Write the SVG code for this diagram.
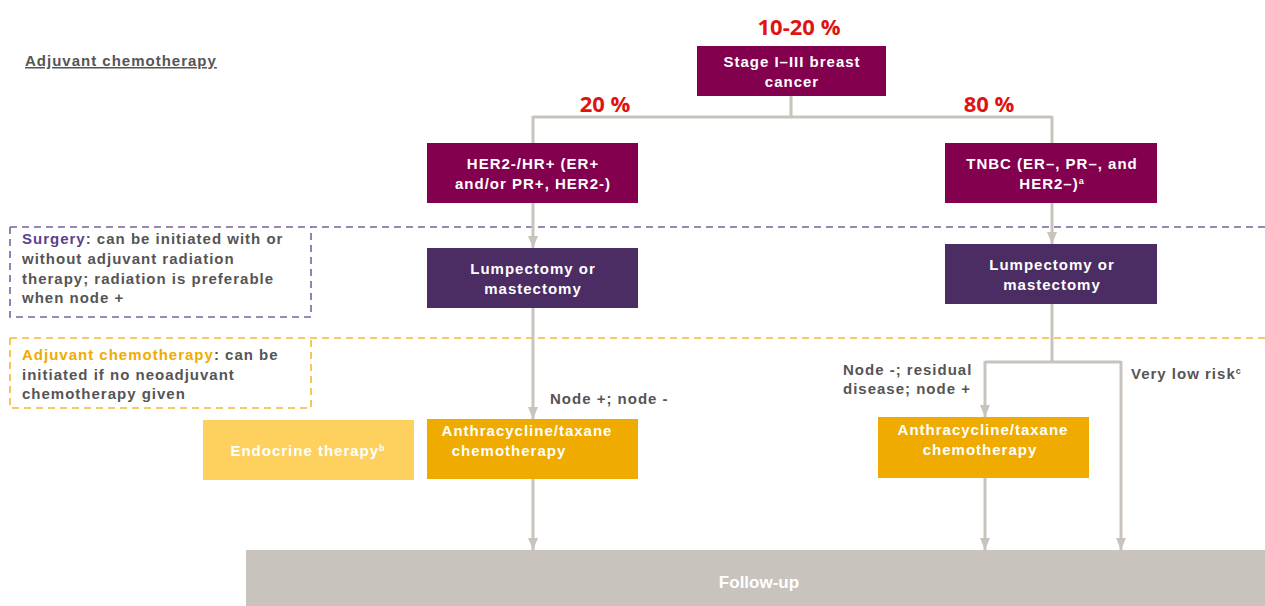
<svg xmlns="http://www.w3.org/2000/svg" width="1265" height="606" viewBox="0 0 1265 606">
<defs>
<style>
.bt{font-family:"Liberation Sans",Arial,sans-serif;font-weight:bold;font-size:15px;letter-spacing:1px;fill:#fff;text-anchor:middle}
.nt{font-family:"Liberation Sans",Arial,sans-serif;font-weight:bold;font-size:15px;letter-spacing:1px;fill:#555}
.pct{font-family:"Open Sans","Liberation Sans",sans-serif;font-weight:bold;font-size:22px;fill:#e0140f;text-anchor:middle}
.con{fill:none;stroke:#c8c3bc;stroke-width:3}
.mag{fill:#83004f}
.pur{fill:#4b2d63}
.org{fill:#f0ab00}
</style>
<marker id="arr" viewBox="0 0 12 10" refX="12" refY="5" markerWidth="4" markerHeight="3.4" orient="auto" markerUnits="strokeWidth">
<path d="M0,0 L12,5 L0,10 z" fill="#c8c3bc"/>
</marker>
</defs>
<rect width="1265" height="606" fill="#fff"/>

<text x="25" y="66" font-family="Liberation Sans,Arial,sans-serif" font-size="15" letter-spacing="1" font-weight="bold" fill="#555" text-decoration="underline">Adjuvant chemotherapy</text>

<g id="dashed-guides">
<path d="M10,227 H1265 M10,227 V317 H311 V227" fill="none" stroke="#7a63a0" stroke-width="1.6" stroke-dasharray="7,5"/>
<path d="M10,338 H1265 M10,338 V408 H311 V338" fill="none" stroke="#f0b83c" stroke-width="1.6" stroke-dasharray="7,5"/>
</g>

<g id="connectors">
<path class="con" d="M791,96 V117 M533,117 H1052"/>
<path class="con" d="M533,116 V248" marker-end="url(#arr)"/>
<path class="con" d="M1052,116 V244" marker-end="url(#arr)"/>
<path class="con" d="M533,308 V419" marker-end="url(#arr)"/>
<path class="con" d="M1052,304 V362 M985,362 H1121"/>
<path class="con" d="M985,361 V417" marker-end="url(#arr)"/>
<path class="con" d="M1121,361 V550" marker-end="url(#arr)"/>
<path class="con" d="M533,479 V550" marker-end="url(#arr)"/>
<path class="con" d="M985,478 V550" marker-end="url(#arr)"/>
</g>

<g id="pct-labels">
<text class="pct" x="799" y="35">10-20 %</text>
<text class="pct" x="605" y="112">20 %</text>
<text class="pct" x="989" y="112">80 %</text>
</g>

<g id="stage">
<rect class="mag" x="697" y="46" width="189" height="50"/>
<text class="bt" x="792" y="67">Stage I–III breast</text>
<text class="bt" x="792" y="87">cancer</text>
</g>

<g id="her2">
<rect class="mag" x="427" y="143" width="211" height="60"/>
<text class="bt" x="533" y="169">HER2-/HR+ (ER+</text>
<text class="bt" x="533" y="189">and/or PR+, HER2-)</text>
</g>

<g id="tnbc">
<rect class="mag" x="945" y="143" width="212" height="60"/>
<text class="bt" x="1052" y="169">TNBC (ER–, PR–, and</text>
<text class="bt" x="1052" y="189">HER2–)<tspan font-size="9" dy="-5">a</tspan></text>
</g>

<g id="surgery-note">
<text class="nt" x="22" y="244"><tspan fill="#5b3f8c">Surgery</tspan>: can be initiated with or</text>
<text class="nt" x="22" y="264">without adjuvant radiation</text>
<text class="nt" x="22" y="284">therapy; radiation is preferable</text>
<text class="nt" x="22" y="303">when node +</text>
</g>

<g id="lump-left">
<rect class="pur" x="427" y="248" width="211" height="60"/>
<text class="bt" x="533" y="274">Lumpectomy or</text>
<text class="bt" x="533" y="294">mastectomy</text>
</g>

<g id="lump-right">
<rect class="pur" x="945" y="244" width="212" height="60"/>
<text class="bt" x="1052" y="270">Lumpectomy or</text>
<text class="bt" x="1052" y="290">mastectomy</text>
</g>

<g id="chemo-note">
<text class="nt" x="22" y="360"><tspan fill="#f0ab00">Adjuvant chemotherapy</tspan>: can be</text>
<text class="nt" x="22" y="380">initiated if no neoadjuvant</text>
<text class="nt" x="22" y="399">chemotherapy given</text>
</g>

<g id="branch-labels">
<text class="nt" x="550" y="404">Node +; node -</text>
<text class="nt" x="843" y="375">Node -; residual</text>
<text class="nt" x="843" y="394">disease; node +</text>
<text class="nt" x="1131" y="379">Very low risk<tspan font-size="9" dy="-5">c</tspan></text>
</g>

<g id="endocrine">
<rect x="203" y="420" width="211" height="60" fill="#fed15f"/>
<text class="bt" x="308" y="456">Endocrine therapy<tspan font-size="9" dy="-5">b</tspan></text>
</g>

<g id="chemo-left">
<rect class="org" x="427" y="419" width="211" height="60"/>
<text class="bt" x="527" y="436">Anthracycline/taxane</text>
<text class="bt" x="509" y="456">chemotherapy</text>
</g>

<g id="chemo-right">
<rect class="org" x="878" y="417" width="211" height="61"/>
<text class="bt" x="983" y="435">Anthracycline/taxane</text>
<text class="bt" x="980" y="455">chemotherapy</text>
</g>

<g id="followup">
<rect x="246" y="550" width="1019" height="56" fill="#c8c3bc"/>
<text x="759" y="588" font-family="Liberation Sans Narrow,Liberation Sans,Arial,sans-serif" font-stretch="condensed" font-size="17" font-weight="bold" fill="#fff" text-anchor="middle">Follow-up</text>
</g>
</svg>
